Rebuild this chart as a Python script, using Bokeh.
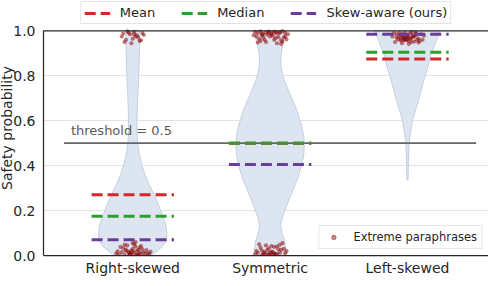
from bokeh.plotting import figure
from bokeh.models import Range1d, FixedTicker, Legend, LegendItem, Span, ColumnDataSource, Title
from bokeh.core.properties import value
from bokeh.embed import file_html
from bokeh.resources import INLINE

# ---------------- data ----------------
categories = ["Right-skewed", "Symmetric", "Left-skewed"]
positions = [0, 1, 2]

mean_vals = [0.27, 0.50, 0.875]
median_vals = [0.175, 0.50, 0.905]
skew_vals = [0.07, 0.405, 0.985]
threshold = 0.5

# violin outlines: probability level -> half width (data units)
rs_vy = [0.0, 0.02, 0.04, 0.066, 0.10, 0.14, 0.18, 0.227, 0.27, 0.315, 0.36, 0.40, 0.45, 0.49, 0.53, 0.576, 0.65, 0.72, 0.80, 0.87, 0.93, 0.99, 1.0]
rs_hw = [0.134, 0.178, 0.216, 0.245, 0.249, 0.238, 0.216, 0.186, 0.156, 0.119, 0.089, 0.067, 0.048, 0.037, 0.032, 0.030, 0.033, 0.037, 0.043, 0.047, 0.049, 0.050, 0.048]
sym_vy = [0.0, 0.022, 0.066, 0.10, 0.127, 0.155, 0.183, 0.22, 0.26, 0.33, 0.40, 0.45, 0.49, 0.53, 0.576, 0.65, 0.722, 0.75, 0.78, 0.81, 0.839, 0.87, 0.897, 0.93, 0.955, 0.98, 1.0]
sym_hw = [0.112, 0.117, 0.104, 0.086, 0.077, 0.082, 0.097, 0.119, 0.145, 0.193, 0.230, 0.245, 0.249, 0.245, 0.230, 0.193, 0.141, 0.123, 0.104, 0.089, 0.080, 0.078, 0.080, 0.089, 0.099, 0.108, 0.115]
ls_vy = [0.336, 0.36, 0.40, 0.45, 0.49, 0.52, 0.547, 0.575, 0.605, 0.635, 0.664, 0.69, 0.72, 0.75, 0.78, 0.81, 0.839, 0.87, 0.897, 0.925, 0.955, 0.98, 1.0]
ls_hw = [0.004, 0.005, 0.006, 0.008, 0.011, 0.016, 0.022, 0.030, 0.037, 0.052, 0.067, 0.080, 0.093, 0.106, 0.119, 0.134, 0.149, 0.160, 0.171, 0.190, 0.208, 0.227, 0.238]

# extreme paraphrases (jitter offset, probability)
rs_lo_dx = [-0.02, 0.01, 0.03, -0.05, 0.06, -0.08, 0.09, 0.00, -0.03, 0.04, -0.10, 0.11, 0.02, -0.01, 0.05, -0.06, 0.07, -0.04, 0.08, -0.07, 0.12, -0.11, 0.01, -0.02, 0.03, 0.00, -0.05, 0.04, 0.06, -0.03, 0.02, -0.09, 0.10, -0.01, 0.05, -0.06, 0.03, -0.12, 0.13, 0.00]
rs_lo_y = [0.005, 0.012, 0.003, 0.020, 0.008, 0.015, 0.006, 0.030, 0.018, 0.025, 0.004, 0.010, 0.040, 0.022, 0.035, 0.002, 0.028, 0.045, 0.014, 0.033, 0.007, 0.019, 0.050, 0.009, 0.001, 0.016, 0.026, 0.004, 0.042, 0.011, 0.060, 0.038, 0.024, 0.003, 0.013, 0.048, 0.021, 0.009, 0.017, 0.055]
rs_hi_dx = [-0.08, -0.05, -0.02, 0.01, 0.04, 0.07, -0.06, 0.00, 0.03, -0.03, 0.06, -0.01, 0.02, 0.08, -0.07, 0.05, -0.04, 0.01]
rs_hi_y = [0.975, 0.96, 0.985, 0.995, 0.97, 0.99, 0.95, 0.965, 0.98, 0.992, 0.958, 0.945, 0.975, 0.982, 0.988, 0.955, 0.998, 0.985]
sym_hi_dx = [-0.11, -0.09, -0.07, -0.05, -0.03, -0.01, 0.01, 0.03, 0.05, 0.07, 0.09, 0.11, 0.13, -0.10, -0.06, -0.02, 0.02, 0.06, 0.10, -0.08, -0.04, 0.00, 0.04, 0.08, 0.12, -0.12, -0.07, -0.03, 0.01, 0.05, 0.09, -0.05, 0.03, 0.07, -0.09, 0.11, -0.01, 0.04, -0.06, 0.08]
sym_hi_y = [0.995, 0.99, 0.998, 0.985, 0.993, 0.997, 0.99, 0.996, 0.988, 0.994, 0.999, 0.99, 0.985, 0.975, 0.98, 0.983, 0.978, 0.972, 0.97, 0.965, 0.96, 0.975, 0.968, 0.958, 0.962, 0.98, 0.955, 0.95, 0.985, 0.945, 0.952, 0.97, 0.96, 0.99, 0.948, 0.975, 0.992, 0.995, 0.987, 0.942]
sym_lo_dx = [-0.10, -0.07, -0.04, -0.01, 0.02, 0.05, 0.08, 0.11, -0.08, -0.05, -0.02, 0.01, 0.04, 0.07, 0.10, -0.06, -0.03, 0.00, 0.03, 0.06, -0.09, 0.09, -0.01, 0.02, -0.04, 0.05, 0.00, -0.02, 0.03, -0.11, 0.12, 0.07, -0.06, 0.01]
sym_lo_y = [0.02, 0.035, 0.01, 0.005, 0.015, 0.04, 0.025, 0.01, 0.05, 0.008, 0.003, 0.018, 0.006, 0.012, 0.03, 0.022, 0.045, 0.002, 0.009, 0.028, 0.012, 0.055, 0.032, 0.004, 0.016, 0.007, 0.013, 0.024, 0.038, 0.005, 0.02, 0.048, 0.001, 0.042]
ls_hi_dx = [-0.11, -0.08, -0.05, -0.02, 0.01, 0.04, 0.07, 0.10, -0.09, -0.06, -0.03, 0.00, 0.03, 0.06, 0.09, 0.12, -0.07, -0.04, -0.01, 0.02, 0.05, 0.08, -0.05, -0.02, 0.01, 0.04, -0.06, -0.03, 0.00, 0.03, 0.06, -0.04, -0.01, 0.02, 0.05, -0.08, 0.08, -0.10, 0.11, 0.00, -0.02, 0.03, -0.05, 0.06, 0.01, -0.03]
ls_hi_y = [0.975, 0.985, 0.965, 0.99, 0.97, 0.98, 0.96, 0.985, 0.95, 0.975, 0.958, 0.982, 0.968, 0.992, 0.955, 0.978, 0.962, 0.945, 0.972, 0.988, 0.952, 0.966, 0.98, 0.96, 0.955, 0.974, 0.99, 0.97, 0.962, 0.95, 0.98, 0.985, 0.958, 0.965, 0.975, 0.97, 0.948, 0.99, 0.96, 0.978, 0.968, 0.995, 0.957, 0.988, 0.942, 0.972]

y_ticks = [0.0, 0.2, 0.4, 0.6, 0.8, 1.0]
y_tick_labels = ["0.0", "0.2", "0.4", "0.6", "0.8", "1.0"]
y_label = "Safety probability"

# ---------------- figure ----------------
FONT = "DejaVu Sans"
Y_TOP = 1.0
p = figure(width=488, height=278, x_range=Range1d(-0.65, 2.59), y_range=Range1d(0, 1.135),
           output_backend="svg", toolbar_location=None,
           min_border_left=0, min_border_right=0, min_border_top=0, min_border_bottom=22)
p.outline_line_color = None
p.background_fill_color = "white"
p.border_fill_color = "white"

p.xgrid.visible = False
p.ygrid.grid_line_color = "#e3e3e3"
p.ygrid.grid_line_width = 1
p.ygrid.ticker = FixedTicker(ticks=y_ticks[1:-1])

for ax in (p.xaxis[0], p.yaxis[0]):
    ax.major_tick_out = 0
    ax.major_tick_in = 0
    ax.minor_tick_out = 0
    ax.minor_tick_in = 0
    ax.axis_line_color = "#262626"
    ax.axis_line_width = 1.25
    ax.major_label_text_font = FONT
    ax.major_label_text_font_size = "14px"
    ax.major_label_text_color = "#262626"

p.xaxis.ticker = FixedTicker(ticks=positions)
p.xaxis.major_label_overrides = {pos: c for pos, c in zip(positions, categories)}
p.xaxis.major_label_standoff = 4

p.yaxis.ticker = FixedTicker(ticks=y_ticks)
p.yaxis.bounds = (0, Y_TOP)
p.yaxis.major_label_overrides = {t: l for t, l in zip(y_ticks, y_tick_labels)}
p.yaxis.major_label_standoff = 8

ylab = Title(text=y_label, align="center", text_font=FONT, text_font_size="14px",
             text_font_style="normal", text_color="#262626", standoff=-8, offset=0)
p.add_layout(ylab, "left")

p.add_layout(Span(location=Y_TOP, dimension="width", line_color="#262626", line_width=1.25))

# violins
for pos, vy, hw in [(0, rs_vy, rs_hw), (1, sym_vy, sym_hw), (2, ls_vy, ls_hw)]:
    xs = [pos + w for w in hw] + [pos - w for w in reversed(hw)]
    ys = list(vy) + list(reversed(vy))
    p.patch(xs, ys, fill_color="#dde5f0", fill_alpha=1.0, line_color="#c3cfe2", line_width=1)

# threshold
p.segment(x0=[-0.5], y0=[threshold], x1=[2.5], y1=[threshold], line_color="#666666", line_width=1.6)
p.text(x=[-0.45], y=[threshold + 0.022], text=["threshold = %.1f" % threshold],
       text_font=value(FONT), text_font_size="13px", text_color="#595959", text_baseline="bottom")

# extreme paraphrases
px, py = [], []
for pos, dxs, ys in [(0, rs_lo_dx, rs_lo_y), (0, rs_hi_dx, rs_hi_y), (1, sym_lo_dx, sym_lo_y),
                     (1, sym_hi_dx, sym_hi_y), (2, ls_hi_dx, ls_hi_y)]:
    n = min(len(dxs), len(ys))
    px += [pos + d for d in dxs[:n]]
    py += list(ys[:n])
pts = p.scatter(px, py, size=3.6, fill_color="#8b0000", fill_alpha=0.5, line_color="#8b0000", line_alpha=0.25)

# summary dashed lines
half = 0.3
renderers = []
for vals, col in [(mean_vals, "#d62728"), (median_vals, "#2ca02c"), (skew_vals, "#6a3d9a")]:
    src = ColumnDataSource(dict(x0=[q - half for q in positions], x1=[q + half for q in positions], y=vals))
    r = p.segment(x0="x0", y0="y", x1="x1", y1="y", source=src, line_color=col, line_width=3,
                  line_dash="11 5")
    renderers.append(r)

top_legend = Legend(items=[LegendItem(label="Mean", renderers=[renderers[0]]),
                           LegendItem(label="Median", renderers=[renderers[1]]),
                           LegendItem(label="Skew-aware (ours)", renderers=[renderers[2]])],
                    orientation="horizontal", location="top_center")
top_legend.label_text_font = FONT
top_legend.label_text_font_size = "13px"
top_legend.label_text_color = "#262626"
top_legend.glyph_width = 26
top_legend.glyph_height = 14
top_legend.label_standoff = 10
top_legend.spacing = 26
top_legend.padding = 3
top_legend.margin = 1
top_legend.border_line_color = "#cccccc"
top_legend.border_line_width = 1
p.add_layout(top_legend)

pt_legend = Legend(items=[LegendItem(label="Extreme paraphrases", renderers=[pts])], location="bottom_right")
pt_legend.label_text_font = FONT
pt_legend.label_text_font_size = "11.5px"
pt_legend.label_text_color = "#262626"
pt_legend.glyph_width = 20
pt_legend.glyph_height = 12
pt_legend.label_standoff = 10
pt_legend.padding = 4
pt_legend.margin = 6
pt_legend.border_line_color = "#cccccc"
p.add_layout(pt_legend)

open("out.html", "w").write(file_html(p, INLINE))
